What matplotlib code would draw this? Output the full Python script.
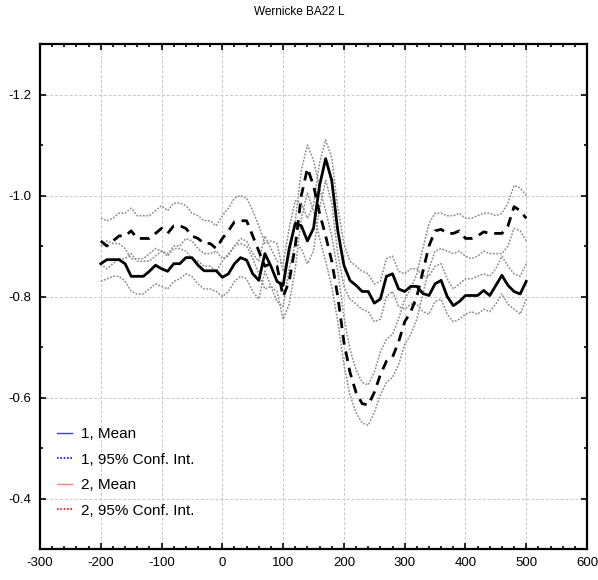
import matplotlib
matplotlib.use("Agg")
import matplotlib.pyplot as plt
from matplotlib.lines import Line2D
from matplotlib.ticker import MultipleLocator

plt.rcParams['font.family'] = ['Liberation Sans', 'DejaVu Sans']

time_ms = list(range(-200, 501, 10))

mean1 = [-0.865, -0.873, -0.873, -0.873, -0.865, -0.84, -0.84, -0.84, -0.85, -0.862,
         -0.855, -0.85, -0.865, -0.865, -0.877, -0.877, -0.862, -0.851, -0.851, -0.851,
         -0.838, -0.845, -0.865, -0.877, -0.872, -0.845, -0.832, -0.885, -0.86, -0.83,
         -0.822, -0.895, -0.945, -0.94, -0.91, -0.935, -1.02, -1.073, -1.03, -0.93,
         -0.862, -0.832, -0.822, -0.81, -0.81, -0.787, -0.795, -0.84, -0.845, -0.815,
         -0.81, -0.82, -0.82, -0.806, -0.802, -0.825, -0.832, -0.8, -0.782, -0.79,
         -0.802, -0.802, -0.802, -0.812, -0.802, -0.822, -0.842, -0.822, -0.81, -0.805,
         -0.83]
ci1_upper = [-0.90, -0.91, -0.905, -0.905, -0.895, -0.875, -0.875, -0.875, -0.885, -0.895,
             -0.89, -0.885, -0.90, -0.90, -0.915, -0.91, -0.895, -0.885, -0.885, -0.89,
             -0.875, -0.88, -0.90, -0.915, -0.91, -0.885, -0.87, -0.92, -0.895, -0.87,
             -0.865, -0.935, -0.99, -0.985, -0.955, -0.98, -1.065, -1.11, -1.075, -0.975,
             -0.905, -0.87, -0.86, -0.85, -0.845, -0.825, -0.83, -0.875, -0.88, -0.85,
             -0.845, -0.855, -0.855, -0.84, -0.84, -0.86, -0.865, -0.835, -0.815, -0.825,
             -0.835, -0.835, -0.84, -0.845, -0.84, -0.855, -0.88, -0.86, -0.845, -0.84,
             -0.865]
ci1_lower = [-0.83, -0.835, -0.84, -0.84, -0.83, -0.81, -0.805, -0.805, -0.815, -0.825,
             -0.82, -0.815, -0.83, -0.835, -0.845, -0.84, -0.825, -0.815, -0.815, -0.81,
             -0.80, -0.81, -0.83, -0.84, -0.835, -0.81, -0.795, -0.85, -0.82, -0.79,
             -0.78, -0.855, -0.905, -0.895, -0.865, -0.89, -0.975, -1.03, -0.985, -0.885,
             -0.82, -0.795, -0.785, -0.775, -0.77, -0.75, -0.755, -0.80, -0.81, -0.78,
             -0.775, -0.785, -0.785, -0.77, -0.765, -0.79, -0.795, -0.765, -0.75, -0.755,
             -0.765, -0.77, -0.765, -0.775, -0.77, -0.785, -0.805, -0.785, -0.775, -0.765,
             -0.795]

mean2 = [-0.91, -0.90, -0.91, -0.92, -0.92, -0.93, -0.915, -0.915, -0.915, -0.925,
         -0.935, -0.925, -0.94, -0.94, -0.935, -0.92, -0.915, -0.905, -0.905, -0.895,
         -0.915, -0.93, -0.948, -0.95, -0.95, -0.92, -0.89, -0.86, -0.865, -0.86,
         -0.80, -0.83, -0.90, -1.00, -1.054, -1.02, -0.965, -0.92, -0.87, -0.80,
         -0.71, -0.65, -0.61, -0.588, -0.585, -0.61, -0.645, -0.672, -0.68, -0.71,
         -0.75, -0.77, -0.80, -0.85, -0.90, -0.93, -0.933, -0.925, -0.925, -0.93,
         -0.915, -0.915, -0.92, -0.928, -0.925, -0.925, -0.925, -0.94, -0.978, -0.97,
         -0.955]
ci2_upper = [-0.955, -0.95, -0.955, -0.965, -0.965, -0.975, -0.96, -0.96, -0.96, -0.97,
             -0.98, -0.97, -0.985, -0.985, -0.98, -0.965, -0.96, -0.95, -0.95, -0.94,
             -0.96, -0.975, -0.995, -1.0, -0.995, -0.97, -0.94, -0.905, -0.91, -0.905,
             -0.85, -0.88, -0.95, -1.05, -1.10, -1.07, -1.015, -0.97, -0.92, -0.85,
             -0.76, -0.695, -0.655, -0.63, -0.625, -0.65, -0.69, -0.715, -0.725, -0.755,
             -0.795, -0.815, -0.845, -0.895, -0.945, -0.965, -0.965, -0.96, -0.96, -0.965,
             -0.955, -0.955, -0.96, -0.965, -0.965, -0.96, -0.965, -0.985, -1.02, -1.015,
             -1.0]
ci2_lower = [-0.865, -0.855, -0.865, -0.875, -0.875, -0.885, -0.87, -0.87, -0.87, -0.88,
             -0.89, -0.88, -0.895, -0.895, -0.89, -0.875, -0.87, -0.86, -0.86, -0.85,
             -0.87, -0.885, -0.90, -0.905, -0.90, -0.875, -0.845, -0.815, -0.82, -0.81,
             -0.755, -0.785, -0.855, -0.955, -1.005, -0.97, -0.915, -0.87, -0.82, -0.75,
             -0.665, -0.605, -0.57, -0.55, -0.545, -0.57, -0.605, -0.63, -0.64, -0.665,
             -0.705, -0.725, -0.755, -0.805, -0.855, -0.89, -0.895, -0.89, -0.885, -0.89,
             -0.88, -0.875, -0.88, -0.89, -0.885, -0.885, -0.885, -0.90, -0.935, -0.93,
             -0.91]

legend_labels = ["1, Mean", "1, 95% Conf. Int.", "2, Mean", "2, 95% Conf. Int."]
legend_colors = ["#3b3bff", "#1010ee", "#ff8080", "#ee1010"]
x_ticks = [-300, -200, -100, 0, 100, 200, 300, 400, 500, 600]
y_ticks = [-1.2, -1.0, -0.8, -0.6, -0.4]

fig = plt.figure(figsize=(5.98, 5.80), dpi=100)
ax = fig.add_axes([0.0669, 0.0534, 0.9147, 0.8707])

ci_style = dict(color="#8c8c8c", lw=1.1, linestyle=(0, (1.2, 1.0)))
ax.plot(time_ms, ci1_upper, **ci_style)
ax.plot(time_ms, ci1_lower, **ci_style)
ax.plot(time_ms, ci2_upper, **ci_style)
ax.plot(time_ms, ci2_lower, **ci_style)
ax.plot(time_ms, mean2, color="black", lw=2.0, linestyle=(0, (3.5, 2.5)))
ax.plot(time_ms, mean1, color="black", lw=2.0)

ax.set_xlim(-300, 600)
ax.set_ylim(-0.3, -1.3)
ax.set_xticks(x_ticks)
ax.set_xticklabels([str(v) for v in x_ticks])
ax.set_yticks(y_ticks)
ax.set_yticklabels([f"{v:.1f}" for v in y_ticks])
ax.xaxis.set_minor_locator(MultipleLocator(20))
ax.yaxis.set_minor_locator(MultipleLocator(0.1))
ax.tick_params(which="both", direction="in", top=True, right=True, labelsize=9.5, width=1.2)
ax.tick_params(which="major", length=4, pad=6)
ax.tick_params(which="minor", length=2.5)
ax.grid(True, which="major", color="#c8c8c8", linestyle=(0, (3, 2)), lw=0.7)
for s in ax.spines.values():
    s.set_linewidth(1.6)

fig.text(0.5, 0.979, "Wernicke BA22 L", ha="center", va="center", fontsize=8.5)

handles = [
    Line2D([], [], color=legend_colors[0], lw=1.0),
    Line2D([], [], color=legend_colors[1], lw=1.2, linestyle=(0, (1, 1))),
    Line2D([], [], color=legend_colors[2], lw=1.0),
    Line2D([], [], color=legend_colors[3], lw=1.2, linestyle=(0, (1, 1))),
]
ax.legend(handles, legend_labels, loc="lower left", bbox_to_anchor=(0.031, 0.062),
          frameon=False, fontsize=11, handlelength=1.0, handletextpad=0.6,
          labelspacing=0.75, borderpad=0, borderaxespad=0)

fig.savefig("out.png", dpi=100)
